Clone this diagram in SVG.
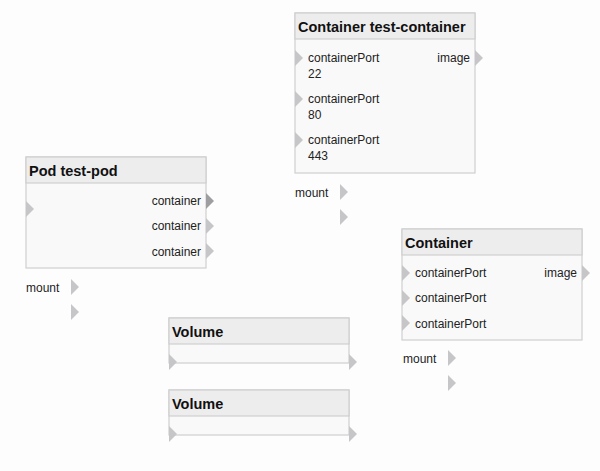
<svg xmlns="http://www.w3.org/2000/svg" width="600" height="471" viewBox="0 0 600 471">
<style>
.body{fill:#f9f9f9;stroke:#cfcfcf;stroke-width:1.2}
.head{fill:#eeedee;stroke:#cfcfcf;stroke-width:1.2}
.title{font-family:"Liberation Sans",Arial,sans-serif;font-size:14.5px;font-weight:bold;fill:#111}
.lbl{font-family:"Liberation Sans",Arial,sans-serif;font-size:12px;fill:#222}
.port{fill:#c6c5c7}
.port.hover{fill:#9e9d9f}
</style>
<defs>
<polygon id="tri" points="0,-8 8,0 0,8"/>
</defs>
<rect width="600" height="471" fill="#fefdfe"/>

<g id="container-test-container">
<rect class="body" x="295" y="13" width="180" height="160"/>
<rect class="head" x="295" y="13" width="180" height="26"/>
<text class="title" x="298" y="32">Container test-container</text>
<use href="#tri" class="port" x="295" y="58"/>
<text class="lbl" x="308" y="62">containerPort</text>
<text class="lbl" x="308" y="78">22</text>
<use href="#tri" class="port" x="295" y="99"/>
<text class="lbl" x="308" y="103">containerPort</text>
<text class="lbl" x="308" y="119">80</text>
<use href="#tri" class="port" x="295" y="140"/>
<text class="lbl" x="308" y="144">containerPort</text>
<text class="lbl" x="308" y="160">443</text>
<text class="lbl" x="470" y="62" text-anchor="end">image</text>
<use href="#tri" class="port" x="475" y="58"/>
<text class="lbl" x="295" y="197">mount</text>
<use href="#tri" class="port" x="340" y="192"/>
<use href="#tri" class="port" x="340" y="217"/>
</g>

<g id="pod-test-pod">
<rect class="body" x="26" y="157" width="180" height="111"/>
<rect class="head" x="26" y="157" width="180" height="26"/>
<text class="title" x="29" y="176">Pod test-pod</text>
<use href="#tri" class="port" x="26" y="209"/>
<text class="lbl" x="201" y="205" text-anchor="end">container</text>
<use href="#tri" class="port hover" x="206" y="201"/>
<text class="lbl" x="201" y="230" text-anchor="end">container</text>
<use href="#tri" class="port" x="206" y="226"/>
<text class="lbl" x="201" y="256" text-anchor="end">container</text>
<use href="#tri" class="port" x="206" y="251"/>
<text class="lbl" x="26" y="292">mount</text>
<use href="#tri" class="port" x="71" y="287"/>
<use href="#tri" class="port" x="71" y="312"/>
</g>

<g id="container">
<rect class="body" x="402" y="229" width="180" height="111"/>
<rect class="head" x="402" y="229" width="180" height="26"/>
<text class="title" x="405" y="248">Container</text>
<use href="#tri" class="port" x="402" y="273"/>
<text class="lbl" x="415" y="277">containerPort</text>
<use href="#tri" class="port" x="402" y="298"/>
<text class="lbl" x="415" y="302">containerPort</text>
<use href="#tri" class="port" x="402" y="323"/>
<text class="lbl" x="415" y="328">containerPort</text>
<text class="lbl" x="577" y="277" text-anchor="end">image</text>
<use href="#tri" class="port" x="582" y="273"/>
<text class="lbl" x="403" y="363">mount</text>
<use href="#tri" class="port" x="448" y="358"/>
<use href="#tri" class="port" x="448" y="383"/>
</g>

<g id="volume-1">
<rect class="body" x="169" y="318" width="180" height="45"/>
<rect class="head" x="169" y="318" width="180" height="26"/>
<text class="title" x="172" y="337">Volume</text>
<use href="#tri" class="port" x="169" y="362"/>
<use href="#tri" class="port" x="349" y="362"/>
</g>

<g id="volume-2">
<rect class="body" x="169" y="390" width="180" height="45"/>
<rect class="head" x="169" y="390" width="180" height="26"/>
<text class="title" x="172" y="409">Volume</text>
<use href="#tri" class="port" x="169" y="434"/>
<use href="#tri" class="port" x="349" y="434"/>
</g>

<g id="connectors"></g>
</svg>
